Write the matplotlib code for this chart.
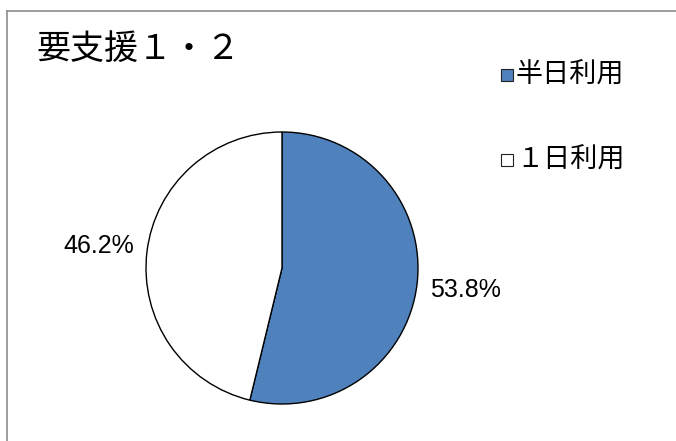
import matplotlib
matplotlib.use("Agg")
import matplotlib.pyplot as plt
from matplotlib.patches import Rectangle
from matplotlib.lines import Line2D

plt.rcParams['font.family'] = ['Noto Sans CJK JP', 'DejaVu Sans']

title = "要支援１・２"
categories = ["半日利用", "１日利用"]
values = [53.8, 46.2]
colors = ["#4f81bd", "#ffffff"]

W, H = 676, 441
fig = plt.figure(figsize=(W / 100, H / 100), dpi=100)

def fx(x):
    return x / W

def fy(y):
    return 1 - y / H

# chart frame
fig.add_artist(Line2D([fx(6.5), fx(6.5)], [fy(10.5), fy(445)], color="#8c8c8c", lw=1.2))
fig.add_artist(Line2D([fx(6.5), fx(680)], [fy(10.5), fy(10.5)], color="#8c8c8c", lw=1.2))

# pie
cx, cy, r = 282, 268, 136
ax = fig.add_axes([fx(cx - r), fy(cy + r), 2 * r / W, 2 * r / H])
wedges, texts, autotexts = ax.pie(
    values, colors=colors, startangle=90, counterclock=False,
    autopct=lambda p: f"{p:.1f}%", pctdistance=1.36,
    wedgeprops=dict(edgecolor="black", linewidth=1.0),
    textprops=dict(fontsize=18, color="#000000", family="Liberation Sans"))
ax.set_xlim(-1, 1)
ax.set_ylim(-1, 1)
ax.set_aspect("equal")
ax.axis("off")

# title
fig.text(fx(36), fy(49), title, fontsize=24.5, ha="left", va="center")

# legend
leg_y = [75, 160]
for lab, col, yy in zip(categories, colors, leg_y):
    fig.add_artist(Rectangle((fx(501), fy(yy + 6)), 12 / W, 12 / H,
                             facecolor=col, edgecolor="#222222", lw=0.8,
                             transform=fig.transFigure))
    fig.text(fx(516), fy(yy), lab, fontsize=19.5, ha="left", va="center")

fig.savefig("out.png", dpi=100)
